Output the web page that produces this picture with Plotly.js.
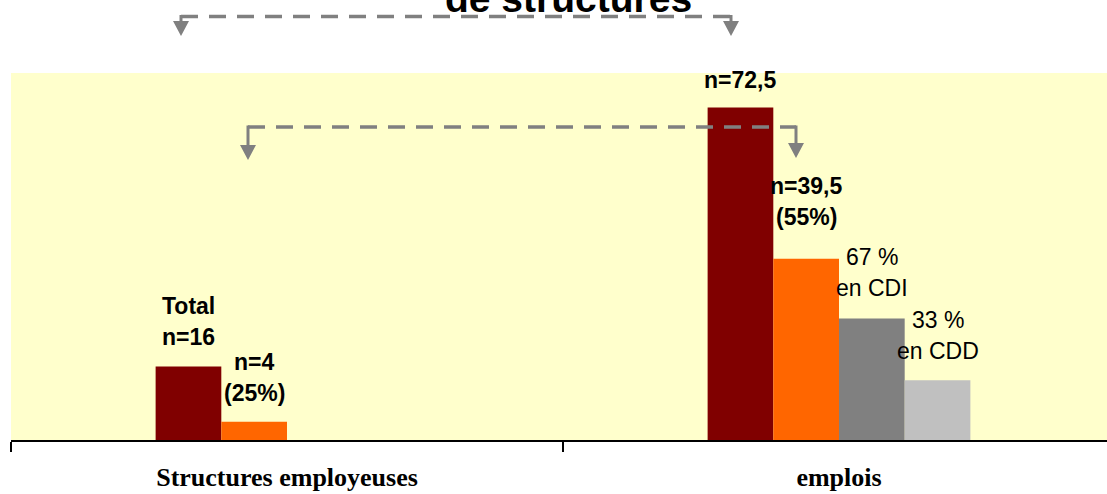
<!DOCTYPE html>
<html><head><meta charset="utf-8">
<script src="https://cdn.plot.ly/plotly-3.0.1.min.js"></script>
<style>html,body{margin:0;padding:0;background:#fff}#chart{width:1107px;height:494px}</style>
</head><body><div id="chart"></div>
<script>
// ---- data ----
const categories = ['Structures employeuses', 'emplois'];
const totalValues = [16, 72.5];
const precaireValues = [4, 39.5];
const cdiValues = [null, 26.5];
const cddValues = [null, 13];
const seriesNames = ['Total', 'Sous-ensemble', 'CDI', 'CDD'];
const seriesValues = [totalValues, precaireValues, cdiValues, cddValues];
const titleText = 'de structures';
// label texts: [category index, series index, lines, bold]
const labelCats = [0, 0, 1, 1, 1, 1];
const labelSeries = [0, 1, 0, 1, 2, 3];
const labelLines = [['Total', 'n=16'], ['n=4', '(25%)'], ['n=72,5'], ['n=39,5', '(55%)'], ['67 %', 'en CDI'], ['33 %', 'en CDD']];
const labelBold = [true, true, true, true, false, false];

// ---- styles / layout ----
const W = 1107, H = 494;
const M = {l: 11, r: 0, t: 73, b: 54};
const plotW = W - M.l - M.r, plotH = H - M.t - M.b;
const seriesColors = ['#800000', '#FF6600', '#808080', '#C0C0C0'];
const bargap = 0.524;
const nSeries = seriesValues.length;
const slotW = (1 - bargap) / nSeries;
const labelLift = [30, 28.5, 27, 41.5, 30, 29];
const lineStep = 31;
const catPx = 552; // pixel width of one category band

const traces = seriesValues.map((vals, s) => ({
  type: 'bar', name: seriesNames[s], x: categories, y: vals,
  marker: {color: seriesColors[s], line: {width: 0}}, hoverinfo: 'skip'
}));

const annotations = [];
labelLines.forEach((lines, k) => {
  const c = labelCats[k], s = labelSeries[k];
  const xc = c - (1 - bargap) / 2 + slotW * (s + 0.5);
  lines.forEach((ln, i) => {
    annotations.push({
      x: xc, y: seriesValues[s][c], xref: 'x', yref: 'y',
      text: labelBold[k] ? '<b>' + ln + '</b>' : ln,
      showarrow: false, xanchor: 'center', yanchor: 'middle',
      yshift: labelLift[k] + lineStep * (lines.length - 1 - i),
      font: {family: 'Liberation Sans, Arial', size: 23, color: '#000'}
    });
  });
});
// cut-off title
annotations.push({
  x: (568.5 - M.l) / plotW, y: 1, xref: 'paper', yref: 'paper',
  text: '<b>' + titleText + '</b>', showarrow: false,
  xanchor: 'center', yanchor: 'middle', yshift: 75,
  font: {family: 'Liberation Sans, Arial', size: 39, color: '#000'}
});

// pixel -> paper helpers for decorative arrows
const px = x => (x - M.l) / plotW;
const py = y => (M.t + plotH - y) / plotH;
const grey = '#808080';
const shapes = [];
function elbowArrow(x1, x2, yLine, yBase, yTip, yBase2, yTip2) {
  shapes.push({type: 'line', xref: 'paper', yref: 'paper', x0: px(x1), x1: px(x2), y0: py(yLine), y1: py(yLine),
    line: {color: grey, width: 3.5, dash: '17px,11px'}});
  [[x1, yBase, yTip], [x2, yBase2, yTip2]].forEach(([x, yb, yt]) => {
    shapes.push({type: 'line', xref: 'paper', yref: 'paper', x0: px(x), x1: px(x), y0: py(yLine - 1.5), y1: py(yb),
      line: {color: grey, width: 3}});
    shapes.push({type: 'path', xref: 'paper', yref: 'paper',
      path: `M ${px(x - 8)},${py(yb)} L ${px(x + 8)},${py(yb)} L ${px(x)},${py(yt)} Z`,
      fillcolor: grey, line: {width: 0}});
  });
}
elbowArrow(181, 731, 16.5, 21, 36, 21, 36);
elbowArrow(248, 796, 127, 145, 160, 143, 158);

const layout = {
  width: W, height: H, margin: M,
  paper_bgcolor: '#FFFFFF', plot_bgcolor: '#FFFFCC',
  showlegend: false, barmode: 'group', bargap: bargap, bargroupgap: 0,
  xaxis: {
    type: 'category', range: [-0.5, -0.5 + plotW / catPx],
    showline: true, linecolor: '#000', linewidth: 2,
    ticks: 'outside', tickson: 'boundaries', ticklen: 10, tickwidth: 1.5, tickcolor: '#000',
    showgrid: false, zeroline: false, ticklabelstandoff: 13,
    tickfont: {family: 'Liberation Serif, Times New Roman', size: 26, color: '#000', weight: 'bold'}
  },
  yaxis: {range: [0, 80], showgrid: false, zeroline: false, showticklabels: false, showline: false, ticks: ''},
  annotations: annotations, shapes: shapes
};
Plotly.newPlot('chart', traces, layout, {displayModeBar: false, staticPlot: true});
</script></body></html>
